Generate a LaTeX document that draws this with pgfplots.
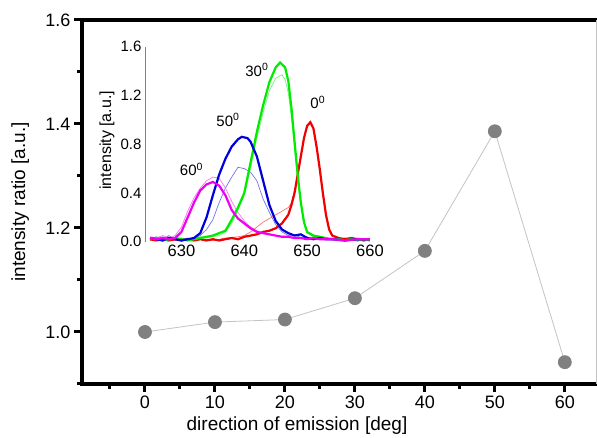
\documentclass[border=0pt]{standalone}
\usepackage{fontspec}
\setmainfont{Liberation Sans}
\usepackage{pgfplots}
\pgfplotsset{compat=1.18}
\usetikzlibrary{calc}

\definecolor{cgreen}{RGB}{0,235,0}
\definecolor{cred}{RGB}{240,0,0}
\definecolor{cblue}{RGB}{0,0,220}
\definecolor{cmag}{RGB}{240,0,240}
\definecolor{mkgray}{RGB}{128,128,128}
\definecolor{lngray}{RGB}{195,195,195}

\begin{document}
\begin{tikzpicture}
% main plot: intensity ratio vs. emission angle
\begin{axis}[
  name=main, clip=false,
  scale only axis, width=515pt, height=364pt,
  xmin=-9, xmax=64.6, ymin=0.9, ymax=1.6,
  xtick={0,10,...,60}, minor xtick={-5,5,...,60},
  ytick={1.0,1.2,1.4,1.6}, minor ytick={0.9,1.1,1.3,1.5},
  xtick pos=bottom, ytick pos=left,
  tick align=outside, major tick length=8pt, minor tick length=5pt,
  every tick/.style={black, line width=3pt},
  every minor tick/.style={black, line width=3pt},
  axis line style={draw=none},
  /pgf/number format/assume math mode=true,
  yticklabel style={/pgf/number format/fixed, /pgf/number format/fixed zerofill,
      /pgf/number format/precision=1},
  tick label style={font=\fontsize{18}{20}\selectfont},
  xlabel={direction of emission [deg]}, ylabel={intensity ratio [a.u.]},
  every axis x label/.style={at={(axis description cs:0.4175,-0.115)}, anchor=center,
      font=\fontsize{19}{22}\selectfont},
  every axis y label/.style={at={(axis description cs:-0.12,0.5)}, rotate=90, anchor=center,
      font=\fontsize{19}{22}\selectfont},
]
\draw[line width=3.5pt, line cap=rect] (rel axis cs:1,1) -- (rel axis cs:0,1)
  -- (rel axis cs:0,0) -- (rel axis cs:1,0);
\draw[lngray, line width=0.8pt] ([xshift=-0.5pt]rel axis cs:1,0) -- ([xshift=-0.5pt]rel axis cs:1,1);
\addplot[color=lngray, line width=0.8pt, mark=*, mark size=6.5pt,
  mark options={fill=mkgray, draw=mkgray}]
  coordinates {(0,1.0) (10,1.019) (20,1.024) (30,1.065) (40,1.156) (50,1.386) (60,0.942)};
\coordinate (insetSW) at (axis cs:0,1.1737);
\coordinate (BL) at (rel axis cs:0,0);
\coordinate (TR) at (rel axis cs:1,1);
\end{axis}

% inset: spectra
\begin{axis}[
  at={(insetSW)}, anchor=south west,
  scale only axis, width=225pt, height=195pt,
  xmin=624.2, xmax=660, ymin=0, ymax=1.6,
  axis y line*=left, axis x line*=bottom,
  x axis line style={draw=none},
  y axis line style={color=gray, line width=0.7pt},
  xtick={630,640,650,660}, ytick={0,0.4,0.8,1.2,1.6},
  major tick length=0pt,
  /pgf/number format/assume math mode=true,
  yticklabel style={/pgf/number format/fixed, /pgf/number format/fixed zerofill,
      /pgf/number format/precision=1, font=\fontsize{15}{17}\selectfont},
  xticklabel style={font=\fontsize{16.5}{18}\selectfont},
  ylabel={intensity [a.u.]},
  every axis y label/.style={at={(axis description cs:-0.169,0.52)}, rotate=90, anchor=center,
      font=\fontsize{16}{18}\selectfont},
]
% thin curves
\addplot[cgreen!55, line width=0.7pt] coordinates {
 (625,0.03) (626,0.02) (627,0.04) (628,0.02) (629,0.03) (630,0.02) (631,0.03) (632,0.02)
 (633,0.04) (634,0.03) (635,0.04) (636,0.05) (637,0.08) (638,0.15) (639,0.26) (640,0.38)
 (641,0.60) (642,0.85) (643,1.06) (644,1.24) (645,1.34) (646,1.37) (646.5,1.33) (647,1.22)
 (647.5,1.02) (648,0.76) (648.5,0.50) (649,0.30) (649.5,0.15) (650,0.07) (651,0.04)
 (652,0.03) (653,0.02) (654,0.03) (655,0.02) (656,0.01) (657,0.02) (658,0.02) (659,0.01) (660,0.02)};
\addplot[cblue!55, line width=0.7pt] coordinates {
 (625,0.02) (626,0.04) (627,0.02) (628,0.05) (629,0.02) (630,0.03) (631,0.02) (632,0.03)
 (633,0.05) (634,0.10) (635,0.18) (636,0.32) (637,0.44) (638,0.53) (639,0.61) (640,0.60)
 (641,0.57) (642,0.50) (643,0.35) (644,0.24) (645,0.14) (646,0.08) (647,0.05) (648,0.06)
 (649,0.03) (650,0.04) (651,0.02) (652,0.03) (654,0.02) (656,0.03) (658,0.02) (660,0.02)};
\addplot[cmag!55, line width=0.7pt] coordinates {
 (625,0.04) (626,0.03) (627,0.05) (628,0.03) (629,0.05) (630,0.12) (631,0.25) (632,0.36)
 (633,0.44) (634,0.50) (635,0.53) (636,0.52) (637,0.44) (638,0.33) (639,0.24) (640,0.17)
 (641,0.12) (642,0.09) (643,0.07) (644,0.06) (645,0.05) (646,0.04) (648,0.03) (650,0.03)
 (652,0.02) (654,0.03) (656,0.02) (658,0.03) (660,0.02)};
\addplot[cred!55, line width=0.7pt] coordinates {
 (625,0.01) (627,0.02) (629,0.01) (631,0.02) (633,0.02) (635,0.01) (637,0.03) (639,0.04)
 (640,0.05) (641,0.08) (642,0.12) (643,0.16) (644,0.19) (645,0.22) (646,0.25) (647,0.28)
 (647.5,0.32) (648,0.42) (648.5,0.55)};
% thick curves
\addplot[cred, line width=2.2pt] coordinates {
 (625,0.02) (626,0.01) (627,0.02) (628,0.01) (629,0.02) (630,0.01) (631,0.02) (632,0.01)
 (633,0.02) (634,0.01) (635,0.02) (636,0.01) (637,0.02) (638,0.03) (639,0.02) (640,0.04)
 (641,0.05) (642,0.06) (643,0.08) (644,0.09) (645,0.11) (646,0.15) (647,0.22) (647.5,0.30)
 (648,0.40) (648.5,0.55) (649,0.70) (649.5,0.85) (650,0.95) (650.5,0.98) (651,0.93)
 (651.5,0.78) (652,0.60) (652.5,0.40) (653,0.22) (653.5,0.10) (654,0.05) (655,0.03)
 (656,0.02) (657,0.03) (658,0.02) (659,0.01) (660,0.02)};
\addplot[cgreen, line width=2.2pt] coordinates {
 (625,0.02) (626,0.03) (627,0.01) (628,0.02) (629,0.03) (630,0.02) (631,0.01) (632,0.02)
 (633,0.03) (634,0.04) (635,0.05) (636,0.07) (637,0.09) (638,0.18) (639,0.28) (640,0.40)
 (641,0.65) (642,0.90) (643,1.12) (644,1.31) (645,1.43) (645.7,1.47) (646.5,1.43) (647,1.32)
 (647.5,1.10) (648,0.82) (648.5,0.55) (649,0.32) (649.5,0.16) (650,0.08) (651,0.05)
 (652,0.04) (653,0.03) (654,0.02) (655,0.02) (656,0.01) (657,0.02) (658,0.01) (659,0.02) (660,0.01)};
\addplot[cblue, line width=2.2pt] coordinates {
 (625,0.03) (626,0.02) (627,0.01) (628,0.03) (629,0.02) (630,0.01) (631,0.02) (632,0.03)
 (633,0.07) (634,0.20) (635,0.38) (636,0.55) (637,0.68) (638,0.78) (639,0.84) (639.6,0.86)
 (640.5,0.85) (641,0.82) (642,0.70) (643,0.50) (644,0.30) (645,0.17) (646,0.10) (647,0.07)
 (648,0.05) (649,0.06) (650,0.03) (651,0.02) (652,0.03) (653,0.02) (654,0.02) (656,0.01)
 (658,0.02) (660,0.02)};
\addplot[cmag, line width=2.2pt] coordinates {
 (625,0.03) (626,0.02) (627,0.03) (628,0.02) (629,0.03) (630,0.08) (631,0.20) (632,0.32)
 (633,0.42) (634,0.47) (635,0.49) (636,0.46) (637,0.38) (638,0.26) (639,0.19) (640,0.15)
 (641,0.11) (642,0.08) (643,0.07) (644,0.06) (645,0.05) (646,0.04) (647,0.04) (648,0.03)
 (649,0.03) (650,0.02) (651,0.03) (652,0.02) (654,0.02) (656,0.01) (658,0.02) (660,0.02)};
\node[font=\fontsize{15}{17}\selectfont] at (axis cs:642,1.41) {30\textsuperscript{0}};
\node[font=\fontsize{15}{17}\selectfont] at (axis cs:651.7,1.14) {0\textsuperscript{0}};
\node[font=\fontsize{15}{17}\selectfont] at (axis cs:637.4,1.00) {50\textsuperscript{0}};
\node[font=\fontsize{15}{17}\selectfont] at (axis cs:631.6,0.59) {60\textsuperscript{0}};
\end{axis}

\pgfresetboundingbox
\path[use as bounding box] ($(BL)+(-82pt,-54pt)$) rectangle ($(TR)+(0pt,20pt)$);
\end{tikzpicture}
\end{document}
